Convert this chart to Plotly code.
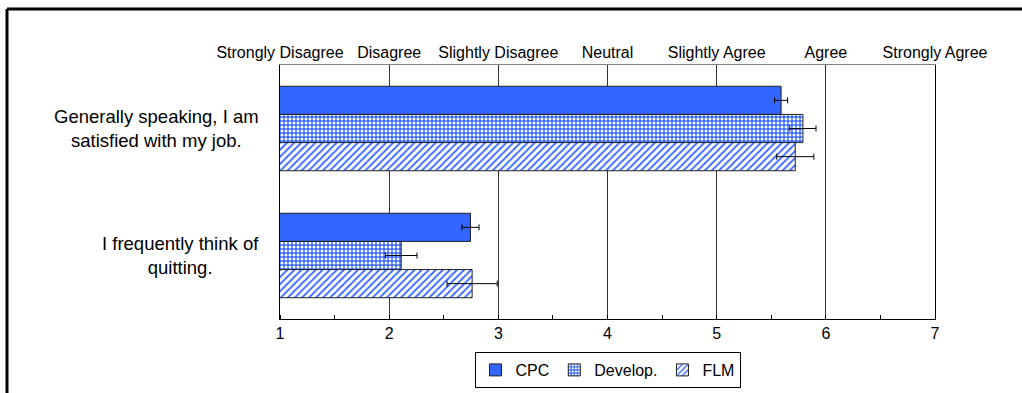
import plotly.graph_objects as go

# ---- data ----
categories = ["Generally speaking, I am<br>satisfied with my job.",
              "I frequently think of<br>quitting."]
series_names = ["CPC", "Develop.", "FLM"]
cpc_mean = [5.59, 2.745]
cpc_err = [0.06, 0.078]
dev_mean = [5.79, 2.11]
dev_err = [0.12, 0.145]
flm_mean = [5.72, 2.76]
flm_err = [0.17, 0.23]
scale_vals = [1, 2, 3, 4, 5, 6, 7]
scale_labels = ["Strongly Disagree", "Disagree", "Slightly Disagree", "Neutral",
                "Slightly Agree", "Agree", "Strongly Agree"]

BLUE = "#3366FF"
FONT = "Liberation Sans, Arial, sans-serif"

W, H = 1022, 393
ML, MR, MT, MB = 280, 87, 65, 74
pw, ph = W - ML - MR, H - MT - MB

fig = go.Figure()

patterns = [
    dict(shape=""),
    dict(shape=".", fgcolor="white", bgcolor=BLUE, size=4, solidity=0.45, fillmode="replace"),
    dict(shape="/", fgcolor=BLUE, bgcolor="white", size=5, solidity=0.35, fillmode="replace"),
]
means = [cpc_mean, dev_mean, flm_mean]
errs = [cpc_err, dev_err, flm_err]
for name, m, e, p in zip(series_names, means, errs, patterns):
    fig.add_trace(go.Bar(
        y=categories, x=m, orientation="h", name=name,
        marker=dict(color=BLUE, line=dict(color="#222222", width=1), pattern=p),
        error_x=dict(type="data", array=e, symmetric=True, color="black",
                     thickness=1, width=3),
        xaxis="x", yaxis="y",
    ))

# invisible trace to activate the top axis
fig.add_trace(go.Scatter(x=[1, 7], y=[categories[0], categories[0]], mode="markers",
                         marker=dict(opacity=0), xaxis="x2", yaxis="y",
                         showlegend=False, hoverinfo="skip"))

fig.update_layout(
    width=W, height=H,
    margin=dict(l=ML, r=MR, t=MT, b=MB, autoexpand=False),
    paper_bgcolor="white", plot_bgcolor="white",
    font=dict(family=FONT, size=16, color="black"),
    barmode="group", bargap=0.335, bargroupgap=0,
    showlegend=True,
    legend=dict(orientation="h", x=0.5, xanchor="center",
                yref="container", y=1 - 352 / H, yanchor="top",
                bordercolor="black", borderwidth=1, font=dict(size=16),
                traceorder="normal", itemwidth=30, tracegroupgap=0),
    xaxis=dict(range=[1, 7], tickvals=scale_vals, ticks="", showgrid=True,
               gridcolor="#333333", gridwidth=1, zeroline=False,
               showline=True, linecolor="black", linewidth=1,
               minor=dict(dtick=0.5, tick0=1, ticks="inside", ticklen=4,
                          tickcolor="black", showgrid=False),
               tickfont=dict(size=16), automargin=False),
    xaxis2=dict(range=[1, 7], overlaying="x", side="top", tickvals=scale_vals,
                ticktext=scale_labels, ticks="", showgrid=False, zeroline=False,
                showline=True, linecolor="#808080", linewidth=1,
                tickfont=dict(size=16), automargin=False),
    yaxis=dict(autorange="reversed", showticklabels=False, ticks="",
               showline=True, linecolor="black", linewidth=1, mirror=True,
               showgrid=False, automargin=False),
)

# category labels: centred lines, block right-aligned left of the axis
for cat in categories:
    fig.add_annotation(x=(261 - ML) / pw, y=cat, xref="paper", yref="y",
                       text=cat, showarrow=False, xanchor="right", yanchor="middle",
                       font=dict(size=18.5), align="center")

# outer frame (left and top edges)
x_left = (7 - ML) / pw
y_top = (H - MB - 9) / ph
fig.add_shape(type="line", xref="paper", yref="paper", x0=x_left, x1=x_left,
              y0=y_top, y1=-MB / ph - 0.05, line=dict(color="black", width=3))
fig.add_shape(type="line", xref="paper", yref="paper", x0=x_left, x1=(W - ML) / pw + 0.05,
              y0=y_top, y1=y_top, line=dict(color="black", width=3))

fig.write_html("out.html", config={"displayModeBar": False},
               post_script="document.body.style.margin='0';")
